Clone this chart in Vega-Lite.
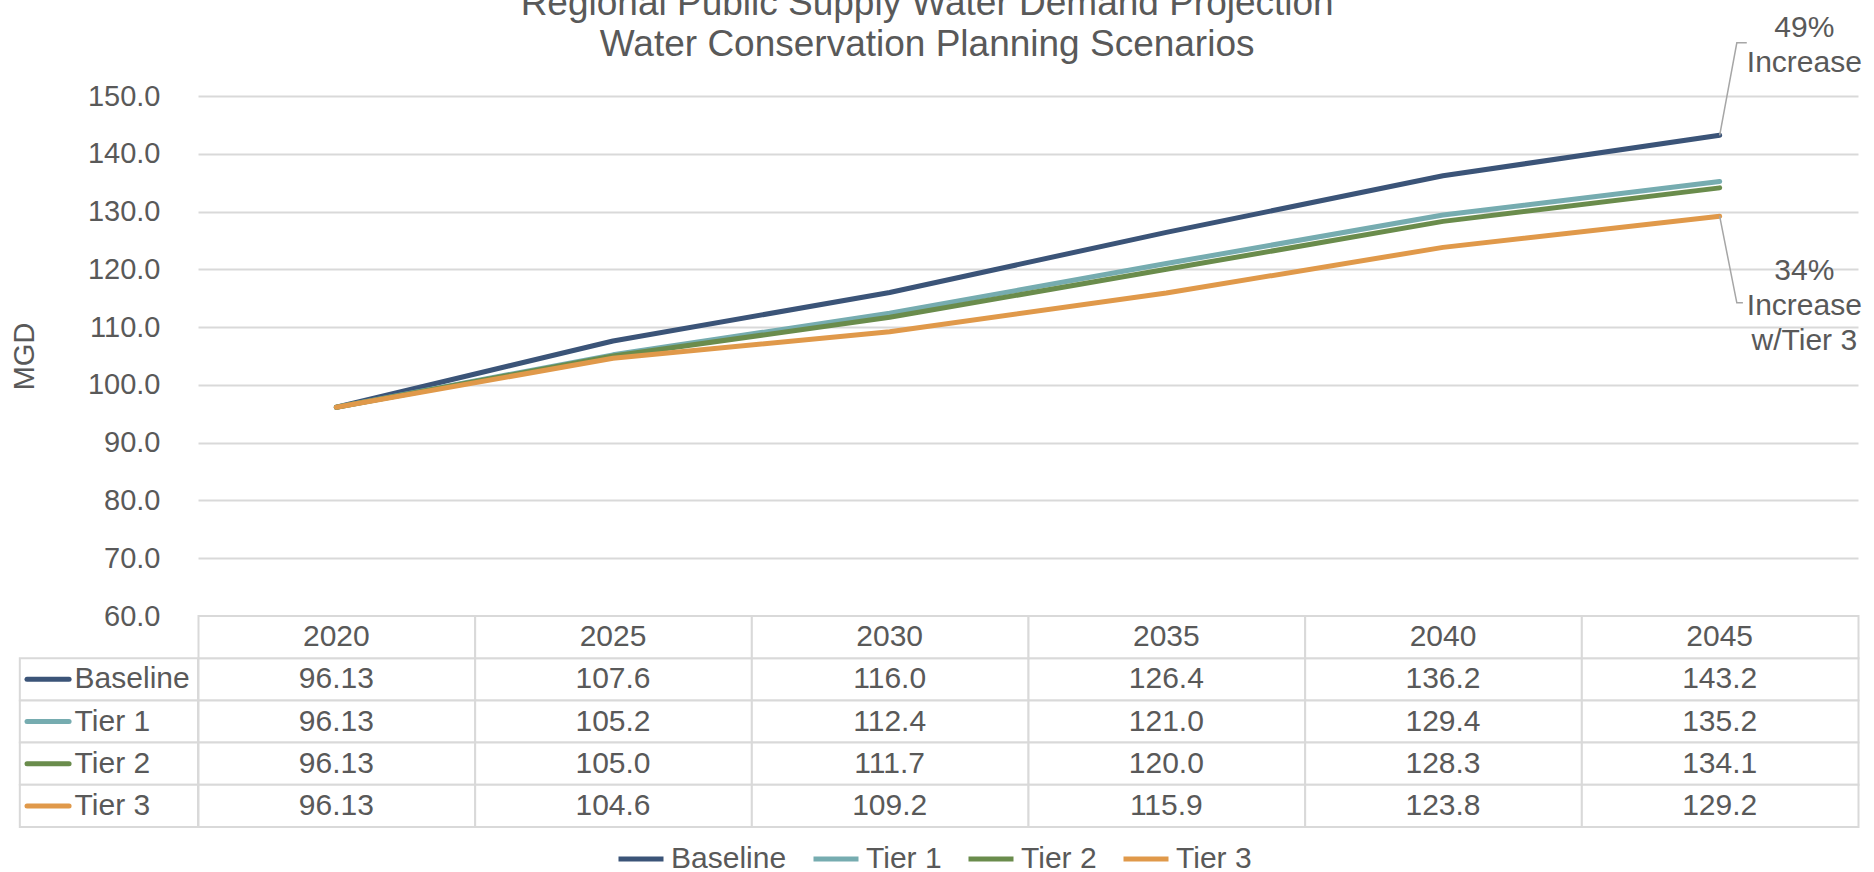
{
  "$schema": "https://vega.github.io/schema/vega-lite/v6.json",
  "background": "white",
  "padding": {"left": 10, "top": -15, "right": 5, "bottom": 0},
  "config": {
    "font": "Liberation Sans",
    "view": {"stroke": null},
    "text": {"font": "Liberation Sans", "color": "#595959"}
  },
  "title": {
    "text": ["Regional Public Supply Water Demand Projection", "Water Conservation Planning Scenarios"],
    "fontSize": 37,
    "lineHeight": 41,
    "fontWeight": "normal",
    "color": "#595959",
    "font": "Liberation Sans",
    "anchor": "middle",
    "frame": "bounds",
    "offset": -51,
    "dx": -9
  },
  "datasets": {
    "demand": [
      {"series": "Baseline", "year": 2020, "value": 96.13},
      {"series": "Baseline", "year": 2025, "value": 107.6},
      {"series": "Baseline", "year": 2030, "value": 116.0},
      {"series": "Baseline", "year": 2035, "value": 126.4},
      {"series": "Baseline", "year": 2040, "value": 136.2},
      {"series": "Baseline", "year": 2045, "value": 143.2},
      {"series": "Tier 1", "year": 2020, "value": 96.13},
      {"series": "Tier 1", "year": 2025, "value": 105.2},
      {"series": "Tier 1", "year": 2030, "value": 112.4},
      {"series": "Tier 1", "year": 2035, "value": 121.0},
      {"series": "Tier 1", "year": 2040, "value": 129.4},
      {"series": "Tier 1", "year": 2045, "value": 135.2},
      {"series": "Tier 2", "year": 2020, "value": 96.13},
      {"series": "Tier 2", "year": 2025, "value": 105.0},
      {"series": "Tier 2", "year": 2030, "value": 111.7},
      {"series": "Tier 2", "year": 2035, "value": 120.0},
      {"series": "Tier 2", "year": 2040, "value": 128.3},
      {"series": "Tier 2", "year": 2045, "value": 134.1},
      {"series": "Tier 3", "year": 2020, "value": 96.13},
      {"series": "Tier 3", "year": 2025, "value": 104.6},
      {"series": "Tier 3", "year": 2030, "value": 109.2},
      {"series": "Tier 3", "year": 2035, "value": 115.9},
      {"series": "Tier 3", "year": 2040, "value": 123.8},
      {"series": "Tier 3", "year": 2045, "value": 129.2}
    ],
    "rows": [
      {"series": "Baseline"},
      {"series": "Tier 1"},
      {"series": "Tier 2"},
      {"series": "Tier 3"}
    ],
    "leaders": [
      {"id": "a", "k": 0, "x": 2045, "y": 143.2},
      {"id": "a", "k": 1, "x": 2045.31, "y": 159.2},
      {"id": "a", "k": 2, "x": 2045.49, "y": 159.2},
      {"id": "b", "k": 0, "x": 2045, "y": 129.2},
      {"id": "b", "k": 1, "x": 2045.31, "y": 114.2},
      {"id": "b", "k": 2, "x": 2045.42, "y": 114.2}
    ],
    "notes": [
      {"x": 2046.53, "y": 160.2, "text": "49%\nIncrease"},
      {"x": 2046.53, "y": 118.15, "text": "34%\nIncrease\nw/Tier 3"}
    ]
  },
  "bounds": "flush",
  "spacing": 0,
  "resolve": {"scale": {"x": "independent", "y": "independent", "color": "shared"}},
  "vconcat": [
    {
      "width": 1660,
      "height": 520,
      "layer": [
        {
          "data": {"name": "demand"},
          "mark": {"type": "line", "strokeWidth": 5, "strokeCap": "round", "strokeJoin": "round"},
          "encoding": {
            "x": {"field": "year", "type": "quantitative", "scale": {"domain": [2017.5, 2047.5], "nice": false, "zero": false}, "axis": null},
            "y": {
              "field": "value", "type": "quantitative",
              "scale": {"domain": [60, 150], "nice": false, "zero": false},
              "axis": {
                "title": "MGD",
                "values": [60, 70, 80, 90, 100, 110, 120, 130, 140, 150],
                "format": ".1f",
                "labelFontSize": 29,
                "labelColor": "#595959",
                "labelFont": "Liberation Sans",
                "labelPadding": 38,
                "ticks": false,
                "domain": false,
                "grid": true,
                "gridColor": "#d9d9d9",
                "gridWidth": 2,
                "titleFontSize": 29,
                "titleFont": "Liberation Sans",
                "titleFontWeight": "normal",
                "titleColor": "#595959",
                "titlePadding": 48
              }
            },
            "color": {
              "field": "series", "type": "nominal",
              "scale": {"domain": ["Baseline", "Tier 1", "Tier 2", "Tier 3"], "range": ["#3b5478", "#76acb0", "#6a8c4c", "#e0994a"]},
              "legend": {
                "orient": "none",
                "legendX": 418,
                "legendY": 738,
                "direction": "horizontal",
                "title": null,
                "symbolType": "stroke",
                "symbolSize": 2025,
                "symbolStrokeWidth": 5,
                "labelFontSize": 30,
                "labelFont": "Liberation Sans",
                "labelColor": "#595959",
                "labelOffset": 5,
                "columnPadding": 16,
                "padding": 0
              }
            }
          }
        },
        {
          "data": {"name": "leaders"},
          "mark": {"type": "line", "color": "#a6a6a6", "strokeWidth": 1.5},
          "encoding": {
            "x": {"field": "x", "type": "quantitative"},
            "y": {"field": "y", "type": "quantitative"},
            "detail": {"field": "id", "type": "nominal"},
            "order": {"field": "k", "type": "quantitative"}
          }
        },
        {
          "data": {"name": "notes"},
          "mark": {"type": "text", "fontSize": 30, "color": "#595959", "align": "center", "baseline": "alphabetic", "lineHeight": 35, "lineBreak": "\n"},
          "encoding": {
            "x": {"field": "x", "type": "quantitative"},
            "y": {"field": "y", "type": "quantitative"},
            "text": {"field": "text", "type": "nominal"}
          }
        }
      ]
    },
    {
      "width": 1660,
      "height": 211,
      "encoding": {
        "y": {"field": "series", "type": "nominal", "scale": {"domain": ["Year", "Baseline", "Tier 1", "Tier 2", "Tier 3"], "paddingInner": 0, "paddingOuter": 0}, "axis": null}
      },
      "layer": [
        {
          "data": {"name": "demand"},
          "mark": {"type": "rect", "fill": "white", "stroke": "#d9d9d9", "strokeWidth": 2},
          "encoding": {
            "x": {"field": "year", "type": "quantitative", "bin": {"step": 5, "anchor": 2017.5, "extent": [2017.5, 2047.5], "nice": false}, "scale": {"domain": [2017.5, 2047.5], "nice": false, "zero": false}, "axis": null}
          }
        },
        {
          "data": {"name": "demand"},
          "transform": [{"filter": "datum.series === 'Baseline'"}],
          "mark": {"type": "rect", "fill": "white", "stroke": "#d9d9d9", "strokeWidth": 2},
          "encoding": {
            "x": {"field": "year", "type": "quantitative", "bin": {"step": 5, "anchor": 2017.5, "extent": [2017.5, 2047.5], "nice": false}},
            "y": {"datum": "Year", "type": "nominal"}
          }
        },
        {
          "data": {"name": "rows"},
          "mark": {"type": "rect", "fill": "white", "stroke": "#d9d9d9", "strokeWidth": 2},
          "encoding": {
            "x": {"datum": 2014.28, "type": "quantitative"},
            "x2": {"datum": 2017.5}
          }
        },
        {
          "data": {"name": "demand"},
          "mark": {"type": "text", "fontSize": 30, "align": "center", "baseline": "middle", "color": "#595959"},
          "encoding": {
            "x": {"field": "year", "type": "quantitative"},
            "text": {"field": "value", "type": "quantitative", "format": ".4r"}
          }
        },
        {
          "data": {"name": "demand"},
          "transform": [{"filter": "datum.series === 'Baseline'"}],
          "mark": {"type": "text", "fontSize": 30, "align": "center", "baseline": "middle", "color": "#595959"},
          "encoding": {
            "x": {"field": "year", "type": "quantitative"},
            "y": {"datum": "Year", "type": "nominal"},
            "text": {"field": "year", "type": "quantitative", "format": "d"}
          }
        },
        {
          "data": {"name": "rows"},
          "mark": {"type": "text", "fontSize": 30, "align": "left", "baseline": "middle", "color": "#595959"},
          "encoding": {
            "x": {"datum": 2015.27, "type": "quantitative"},
            "text": {"field": "series", "type": "nominal"}
          }
        },
        {
          "data": {"name": "rows"},
          "mark": {"type": "rule", "strokeWidth": 5, "strokeCap": "round"},
          "encoding": {
            "x": {"datum": 2014.41, "type": "quantitative"},
            "x2": {"datum": 2015.17},
            "color": {"field": "series", "type": "nominal", "legend": null}
          }
        }
      ]
    }
  ]
}
